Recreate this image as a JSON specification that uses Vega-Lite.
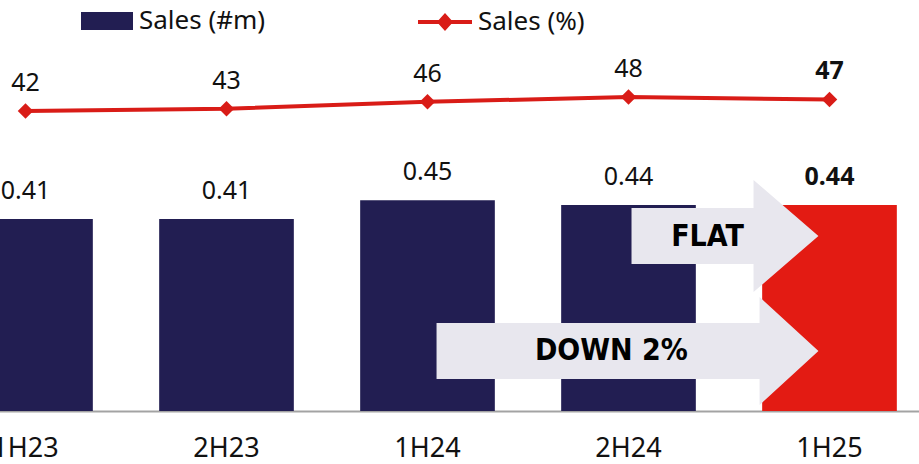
{
  "$schema": "https://vega.github.io/schema/vega-lite/v6.json",
  "width": 1005,
  "height": 411,
  "autosize": {"type": "none"},
  "padding": {"left": -75, "top": 0, "right": 0, "bottom": 53},
  "background": "white",
  "config": {"view": {"stroke": null}, "font": "Noto Sans", "text": {"font": "Noto Sans"}},
  "data": {
    "values": [
      {"period": "1H23", "sales_m": 0.41, "sales_pct": 42, "s1": "Sales (#m)", "s2": "Sales (%)"},
      {"period": "2H23", "sales_m": 0.41, "sales_pct": 43, "s1": "Sales (#m)", "s2": "Sales (%)"},
      {"period": "1H24", "sales_m": 0.45, "sales_pct": 46, "s1": "Sales (#m)", "s2": "Sales (%)"},
      {"period": "2H24", "sales_m": 0.44, "sales_pct": 48, "s1": "Sales (#m)", "s2": "Sales (%)"},
      {"period": "1H25", "sales_m": 0.44, "sales_pct": 47, "s1": "Sales (#m)", "s2": "Sales (%)"}
    ]
  },
  "resolve": {"scale": {"x": "independent", "y": "independent", "fill": "independent", "stroke": "independent"}},
  "layer": [
    {
      "encoding": {
        "x": {"field": "period", "type": "nominal", "sort": ["1H23", "2H23", "1H24", "2H24", "1H25"],
              "scale": {"paddingInner": 0.33, "paddingOuter": 0.165},
              "axis": {"title": null, "labelAngle": 0, "ticks": false, "grid": false, "domainColor": "#a3a3a3", "domainWidth": 2,
                       "labelFontSize": 27, "labelColor": "#111111", "labelFont": "Noto Sans", "labelPadding": 24}},
        "y": {"field": "sales_m", "type": "quantitative", "scale": {"domain": [0, 0.878], "nice": false}, "axis": null}
      },
      "layer": [
        {
          "mark": {"type": "bar"},
          "encoding": {
            "fill": {
              "condition": {"test": "datum.period === '1H25'", "value": "#e31b13"},
              "field": "s1", "type": "nominal", "scale": {"range": ["#221e52"]},
              "legend": {"title": null, "orient": "none", "legendX": 156, "legendY": -5,
                         "symbolType": "M-1,-0.346H1V0.346H-1Z", "symbolSize": 2704, "symbolStrokeWidth": 0,
                         "labelFontSize": 26, "labelFont": "Noto Sans", "labelColor": "#111111", "labelOffset": 6}
            }
          }
        },
        {
          "transform": [{"filter": "datum.period !== '1H25'"}],
          "mark": {"type": "text", "baseline": "alphabetic", "dy": -20, "fontSize": 25, "color": "#111111"},
          "encoding": {"text": {"field": "sales_m", "type": "quantitative", "format": ".2f"}}
        },
        {
          "transform": [{"filter": "datum.period === '1H25'"}],
          "mark": {"type": "text", "baseline": "alphabetic", "dy": -20, "fontSize": 25, "fontWeight": "bold", "color": "#111111"},
          "encoding": {"text": {"field": "sales_m", "type": "quantitative", "format": ".2f"}}
        }
      ]
    },
    {
      "data": {
        "values": [
          {"arrow": "flat", "xi": 3.015, "top": 0.4338, "bottom": 0.3141},
          {"arrow": "flat", "xi": 3.622, "top": 0.4338, "bottom": 0.3141},
          {"arrow": "flat", "xi": 3.6221, "top": 0.4936, "bottom": 0.2543},
          {"arrow": "flat", "xi": 3.945, "top": 0.3739, "bottom": 0.3739},
          {"arrow": "down", "xi": 2.045, "top": 0.188, "bottom": 0.0684},
          {"arrow": "down", "xi": 3.652, "top": 0.188, "bottom": 0.0684},
          {"arrow": "down", "xi": 3.6521, "top": 0.2436, "bottom": 0.0128},
          {"arrow": "down", "xi": 3.945, "top": 0.1282, "bottom": 0.1282}
        ]
      },
      "layer": [
        {
          "mark": {"type": "area", "color": "#e8e7ee", "opacity": 1},
          "encoding": {
            "x": {"field": "xi", "type": "quantitative", "scale": {"domain": [-0.5, 4.5], "nice": false, "zero": false}, "axis": null},
            "y": {"field": "top", "type": "quantitative", "scale": {"domain": [0, 0.878], "nice": false}, "axis": null},
            "y2": {"field": "bottom"},
            "detail": {"field": "arrow", "type": "nominal"}
          }
        },
        {
          "data": {
            "values": [
              {"label": "FLAT", "xi": 3.393, "yv": 0.3718},
              {"label": "DOWN 2%", "xi": 2.915, "yv": 0.1282}
            ]
          },
          "mark": {"type": "text", "font": "DejaVu Sans Condensed", "fontWeight": "bold", "fontSize": 30, "color": "#000000", "baseline": "middle", "align": "center"},
          "encoding": {
            "x": {"field": "xi", "type": "quantitative"},
            "y": {"field": "yv", "type": "quantitative"},
            "text": {"field": "label"}
          }
        }
      ]
    },
    {
      "encoding": {
        "x": {"field": "period", "type": "nominal", "sort": ["1H23", "2H23", "1H24", "2H24", "1H25"], "axis": null},
        "y": {"field": "sales_pct", "type": "quantitative", "scale": {"domain": [-86.5, 89.6], "nice": false, "zero": false}, "axis": null}
      },
      "layer": [
        {
          "mark": {"type": "line", "strokeWidth": 4},
          "encoding": {
            "stroke": {
              "field": "s2", "type": "nominal", "scale": {"range": ["#d91c17"]},
              "legend": {"title": null, "orient": "none", "legendX": 493, "legendY": -5,
                         "symbolType": "M-1,-0.075H1V0.075H-1Z M0,-0.33L0.3,0L0,0.33L-0.3,0Z", "symbolSize": 2916,
                         "labelFontSize": 26, "labelFont": "Noto Sans", "labelColor": "#111111", "labelOffset": 6,
                         "encode": {"symbols": {"update": {"fill": {"value": "#d91c17"}, "strokeWidth": {"value": 0}}}}}
            }
          }
        },
        {
          "mark": {"type": "point", "shape": "diamond", "filled": true, "size": 240, "color": "#d91c17", "opacity": 1}
        },
        {
          "transform": [{"filter": "datum.period !== '1H25'"}],
          "mark": {"type": "text", "baseline": "alphabetic", "dy": -20, "fontSize": 25, "color": "#111111"},
          "encoding": {"text": {"field": "sales_pct", "type": "quantitative"}}
        },
        {
          "transform": [{"filter": "datum.period === '1H25'"}],
          "mark": {"type": "text", "baseline": "alphabetic", "dy": -20, "fontSize": 25, "fontWeight": "bold", "color": "#111111"},
          "encoding": {"text": {"field": "sales_pct", "type": "quantitative"}}
        }
      ]
    }
  ]
}
